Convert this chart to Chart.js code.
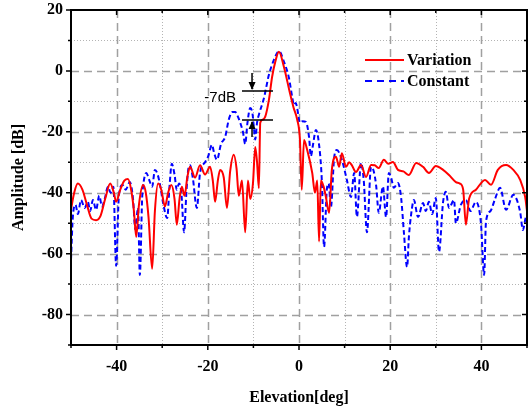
<!DOCTYPE html>
<html>
<head>
<meta charset="utf-8">
<script src="https://cdn.jsdelivr.net/npm/chart.js@4.4.0/dist/chart.umd.min.js"></script>
<style>
    body { margin: 0; background: #ffffff; }
    #wrap { width: 532px; height: 410px; }
</style>
</head>
<body>
<div id="wrap"><canvas id="patternChart" width="532" height="410"></canvas></div>
<script>
// Elevation cut of the radiation pattern, amplitude in dB
const variationAngle = [
    -50, -49.3, -48.5, -47.5, -46.5, -45.5, -44.5, -43.5, -42.5, -41.4, -40.6, -40.1,
    -39.2, -38.3, -37.5, -36.7, -36.2, -35.7, -35.1, -34.2, -33.6, -33, -32.2, -31.6,
    -30.9, -30.2, -29.4, -28.7, -28, -27.3, -26.8, -26.2, -25.7, -25.1, -24.5, -23.9,
    -22.8, -21.7, -20.6, -19.5, -18.9, -18.4, -17.8, -17.3, -16.5, -15.8, -15.1, -14.3,
    -13.7, -13.2, -12.5, -11.8, -11.2, -10.7, -10.1, -9.6, -9.2, -8.8, -8.5, -8, -7.4,
    -6.6, -5.9, -5.2, -4.4, -3.3, -2, -1.2, -0.4, 0.2, 0.6, 1.1, 1.8, 2.9, 3.5, 4.0,
    4.4, 4.8, 5.4, 5.9, 6.6, 7.2, 8.1, 8.8, 9.4, 10.3, 11.0, 11.6, 12.5, 13.6, 14.7,
    15.8, 16.6, 17.5, 18.6, 19.6, 20.6, 21.7, 22.9, 24.1, 25.7, 27.2, 28.5, 30, 31.6,
    32.9, 34.4, 35.3, 36, 36.6, 37.3, 38.8, 40.8, 42.1, 43.6, 45.4, 47, 48.5, 49.6, 50
];
const variationAmp = [
    -45.5, -40, -37, -39, -44, -48.5, -49, -47.5, -42, -37, -40, -43,
    -39, -36, -35.5, -40, -46, -54.5, -44, -37.5, -40, -48, -65, -46,
    -37, -39, -44.5, -40, -37.5, -42, -50.5, -42, -38, -41, -35, -31.5,
    -35, -31, -34, -31.5, -36, -43, -36, -32.5, -35, -45, -33, -27.5,
    -32, -41, -36, -53, -36, -42, -37, -25, -30, -38.5, -17, -16, -15,
    -9.5, -2, 3, 6.3, 1.3, -7.2, -12, -16, -22.5, -39, -22.7, -26, -33.5, -40, -36,
    -56, -36, -38, -41.4, -46.6, -32.5, -28.2, -31.5, -27, -31.5, -30, -31, -33.2, -30.9, -34.8,
    -30.9, -31, -31.9, -29.2, -30.5, -29.9, -32.5, -33, -34.2, -30.2, -31.5, -33.5, -31.2, -32.5,
    -34.2, -36.5, -37, -39, -50.5, -42, -39, -35.8, -37.4, -32.5, -30.9, -32.5, -35.8, -41.4, -46
];

const constantAngle = [
    -50, -49.6, -49, -48.5, -47.8, -47, -46.3, -45.8, -45.2, -44.5, -43.8, -43.2, -42.6,
    -41.9, -41.3, -40.7, -40.1, -39.5, -38.7, -38, -37.1, -36.4, -35.9, -35.3, -34.9,
    -34.4, -34.2, -33.5, -32.8, -32.2, -31.6, -31, -30.4, -29.8, -28.9, -28.4, -27.9,
    -27.3, -26.8, -26.3, -25.8, -25.2, -24.7, -24.3, -23.9, -23.3, -22.4, -21.7, -20.6,
    -19.9, -19.1, -18.6, -18, -17.1, -16.2, -15.4, -14.6, -14, -13.4, -12.9, -12.3,
    -11.8, -11.3, -10.7, -10.2, -9.9, -9.6, -9.2, -8.8, -7.7, -6.6, -5.5, -4.4, -3.3,
    -2.2, -1.5, -1.1, -0.7, -0.4, 0.2, 0.8, 1.5, 2.2, 2.6, 3.1, 3.7, 4.3, 5, 5.5, 6.1,
    6.5, 7, 7.7, 8.3, 9.4, 10.5, 11.4, 12.1, 12.7, 13.6, 14.2, 14.9, 15.8, 16.4, 16.9,
    17.5, 18.4, 19.1, 19.7, 20.2, 20.8, 21.7, 22.4, 23, 23.7, 24.1, 24.6, 25.2, 26.1,
    27.2, 27.8, 28.5, 29.2, 30, 30.7, 31.6, 32.2, 32.9, 34, 34.4, 35.5, 36.6, 37.6,
    38.8, 39.9, 40.6, 41, 42, 43, 44.1, 45.4, 47, 48.5, 49.1, 49.8, 50
];
const constantAmp = [
    -62, -48, -44, -47, -42.4, -45, -43, -46, -42.4, -45.6, -41, -44.5, -42,
    -38, -40, -38, -64, -41, -37.5, -39, -36.5, -42, -52, -45, -67,
    -42, -38, -33.5, -36, -38, -32.5, -34, -38, -43.4, -48.3, -38, -30.5,
    -34, -39, -37, -40, -53, -40, -32.5, -31, -35, -45, -33.5, -30,
    -28, -24.3, -27, -29.2, -24, -21.7, -16, -13.5, -13.5, -15, -17, -20,
    -24, -17, -12.2, -14, -18.4, -22.5, -17, -14.4, -9, -1.3, 3.6, 6.5, 3,
    -2.3, -8.5, -11.2, -10.5, -12.2, -17, -16.5, -16.7, -21.7, -28, -24, -19.4, -23, -35.8, -57.8, -39,
    -37, -44.7, -28.6, -26, -29.2, -35.8, -41.4, -33.5, -47.9, -30.2, -36, -53, -31.5, -33, -37.4,
    -46.6, -38, -48, -33.5, -35, -38.4, -36.8, -41.7, -53, -64.4, -54.5, -47, -42.4, -48,
    -43.4, -46, -43, -47, -41.7, -59.4, -43, -39.7, -45, -42.4, -50, -44, -42.4, -46,
    -43, -50, -67, -49.6, -46, -42, -38.4, -45.6, -40.7, -46.3, -52.2, -48, -49
];

// Axis ticks: every 10, labels only on multiples of 20
const xTicks = [-50, -40, -30, -20, -10, 0, 10, 20, 30, 40, 50];
const yTicks = [20, 10, 0, -10, -20, -30, -40, -50, -60, -70, -80, -90];

const serifBold = { family: 'Liberation Serif', size: 16, weight: 'bold' };

function toPoints(xs, ys) {
    return xs.map((x, i) => ({ x: x, y: ys[i] }));
}

// Dashed grid on the 20s, dotted on the 10s, plus tick marks
const gridPlugin = {
    id: 'patternGrid',
    beforeDatasetsDraw(chart) {
        const { ctx, chartArea: a, scales: { x, y } } = chart;
        ctx.save();
        xTicks.forEach(v => {
            if (v === -50 || v === 50) return;
            const px = Math.round(x.getPixelForValue(v)) + 0.5;
            const major = v % 20 === 0;
            ctx.strokeStyle = major ? '#a0a0a0' : '#b4b4b4';
            ctx.lineWidth = major ? 1.5 : 1;
            ctx.setLineDash(major ? [8, 5] : [1, 2]);
            ctx.beginPath();
            ctx.moveTo(px, a.top);
            ctx.lineTo(px, a.bottom);
            ctx.stroke();
        });
        yTicks.forEach(v => {
            if (v === 20 || v === -90) return;
            const py = Math.round(y.getPixelForValue(v)) + 0.5;
            const major = v % 20 === 0;
            ctx.strokeStyle = major ? '#a0a0a0' : '#b4b4b4';
            ctx.lineWidth = major ? 1.5 : 1;
            ctx.setLineDash(major ? [8, 5] : [1, 2]);
            ctx.beginPath();
            ctx.moveTo(a.left, py);
            ctx.lineTo(a.right, py);
            ctx.stroke();
        });
        ctx.restore();
    },
    afterDatasetsDraw(chart) {
        const { ctx, chartArea: a, scales: { x, y } } = chart;
        ctx.save();
        ctx.setLineDash([]);
        ctx.strokeStyle = '#000';
        ctx.lineWidth = 1.5;
        xTicks.forEach(v => {
            const px = x.getPixelForValue(v);
            const len = v % 20 === 0 ? 5 : 3;
            ctx.beginPath();
            ctx.moveTo(px, a.bottom);
            ctx.lineTo(px, a.bottom + len);
            ctx.moveTo(px, a.top);
            ctx.lineTo(px, a.top + len);
            ctx.stroke();
        });
        yTicks.forEach(v => {
            const py = y.getPixelForValue(v);
            const len = v % 20 === 0 ? 5 : 3;
            ctx.beginPath();
            ctx.moveTo(a.left, py);
            ctx.lineTo(a.left - len, py);
            ctx.moveTo(a.right, py);
            ctx.lineTo(a.right - len, py);
            ctx.stroke();
        });
        // frame
        ctx.lineWidth = 2;
        ctx.strokeRect(a.left, a.top, a.right - a.left, a.bottom - a.top);
        ctx.restore();
    }
};

// In-plot legend and the -7dB marker
const notePlugin = {
    id: 'patternNotes',
    afterDatasetsDraw(chart) {
        const { ctx, chartArea: a, scales: { x, y } } = chart;
        ctx.save();

        // legend
        const lx = a.left + 294;
        ctx.lineWidth = 2;
        ctx.strokeStyle = '#ff0000';
        ctx.setLineDash([]);
        ctx.beginPath();
        ctx.moveTo(lx, 60);
        ctx.lineTo(lx + 39, 60);
        ctx.stroke();
        ctx.strokeStyle = '#0000ff';
        ctx.setLineDash([7, 5]);
        ctx.beginPath();
        ctx.moveTo(lx, 81);
        ctx.lineTo(lx + 39, 81);
        ctx.stroke();
        ctx.setLineDash([]);
        ctx.fillStyle = '#000';
        ctx.font = 'bold 16px "Liberation Serif"';
        ctx.textBaseline = 'middle';
        ctx.textAlign = 'left';
        ctx.fillText('Variation', lx + 42, 61);
        ctx.fillText('Constant', lx + 42, 82);

        // -7dB level marks
        const x0 = x.getPixelForValue(-12.5);
        const x1 = x.getPixelForValue(-5.7);
        const xa = x.getPixelForValue(-10.3);
        const yUp = y.getPixelForValue(-6.6);
        const yLo = y.getPixelForValue(-16.1);
        ctx.strokeStyle = '#000';
        ctx.lineWidth = 1.5;
        ctx.beginPath();
        ctx.moveTo(x0, yUp);
        ctx.lineTo(x1, yUp);
        ctx.moveTo(x0, yLo);
        ctx.lineTo(x1, yLo);
        ctx.moveTo(xa, yUp - 18);
        ctx.lineTo(xa, yUp - 2);
        ctx.moveTo(xa, yLo + 17);
        ctx.lineTo(xa, yLo + 2);
        ctx.stroke();
        ctx.fillStyle = '#000';
        ctx.beginPath();
        ctx.moveTo(xa, yUp - 1);
        ctx.lineTo(xa - 3.5, yUp - 9);
        ctx.lineTo(xa + 3.5, yUp - 9);
        ctx.closePath();
        ctx.fill();
        ctx.beginPath();
        ctx.moveTo(xa, yLo + 1);
        ctx.lineTo(xa - 3.5, yLo + 9);
        ctx.lineTo(xa + 3.5, yLo + 9);
        ctx.closePath();
        ctx.fill();
        ctx.font = '15px "Liberation Sans"';
        ctx.textAlign = 'right';
        ctx.fillText('-7dB', x0 - 6, yUp + 7);
        ctx.restore();
    }
};

const ctx = document.getElementById('patternChart').getContext('2d');
new Chart(ctx, {
    type: 'line',
    data: {
        datasets: [{
            label: 'Variation',
            data: toPoints(variationAngle, variationAmp),
            borderColor: '#ff0000',
            borderWidth: 2,
            pointRadius: 0,
            cubicInterpolationMode: 'monotone',
            fill: false
        }, {
            label: 'Constant',
            data: toPoints(constantAngle, constantAmp),
            borderColor: '#0000ff',
            borderWidth: 2,
            borderDash: [5, 3],
            pointRadius: 0,
            cubicInterpolationMode: 'monotone',
            fill: false
        }]
    },
    options: {
        responsive: false,
        animation: false,
        layout: { padding: { top: 10, right: 5, left: 0, bottom: 0 } },
        plugins: {
            legend: { display: false },
            tooltip: { enabled: false }
        },
        scales: {
            x: {
                type: 'linear',
                min: -50,
                max: 50,
                afterBuildTicks: scale => { scale.ticks = xTicks.map(v => ({ value: v })); },
                ticks: {
                    color: '#000',
                    font: serifBold,
                    padding: 12,
                    maxRotation: 0,
                    autoSkip: false,
                    callback: v => (v % 20 === 0 ? v : '')
                },
                grid: { display: false, drawTicks: false, tickLength: 0 },
                border: { display: false },
                title: {
                    display: true,
                    text: 'Elevation[deg]',
                    color: '#000',
                    font: serifBold,
                    padding: { top: 0, bottom: 3 }
                },
                afterFit: scale => {
                    scale.height = 65;
                    scale.paddingLeft = 0;
                    scale.paddingRight = 0;
                }
            },
            y: {
                min: -90,
                max: 20,
                afterBuildTicks: scale => { scale.ticks = yTicks.map(v => ({ value: v })); },
                ticks: {
                    color: '#000',
                    font: serifBold,
                    padding: 8,
                    autoSkip: false,
                    callback: v => (v % 20 === 0 ? v : '')
                },
                grid: { display: false, drawTicks: false, tickLength: 0 },
                border: { display: false },
                title: {
                    display: true,
                    text: 'Amplitude [dB]',
                    color: '#000',
                    font: serifBold,
                    padding: { top: 9, bottom: 0 }
                },
                afterFit: scale => {
                    scale.width = 71;
                    scale.paddingTop = 0;
                    scale.paddingBottom = 0;
                }
            }
        }
    },
    plugins: [gridPlugin, notePlugin]
});
</script>
</body>
</html>
